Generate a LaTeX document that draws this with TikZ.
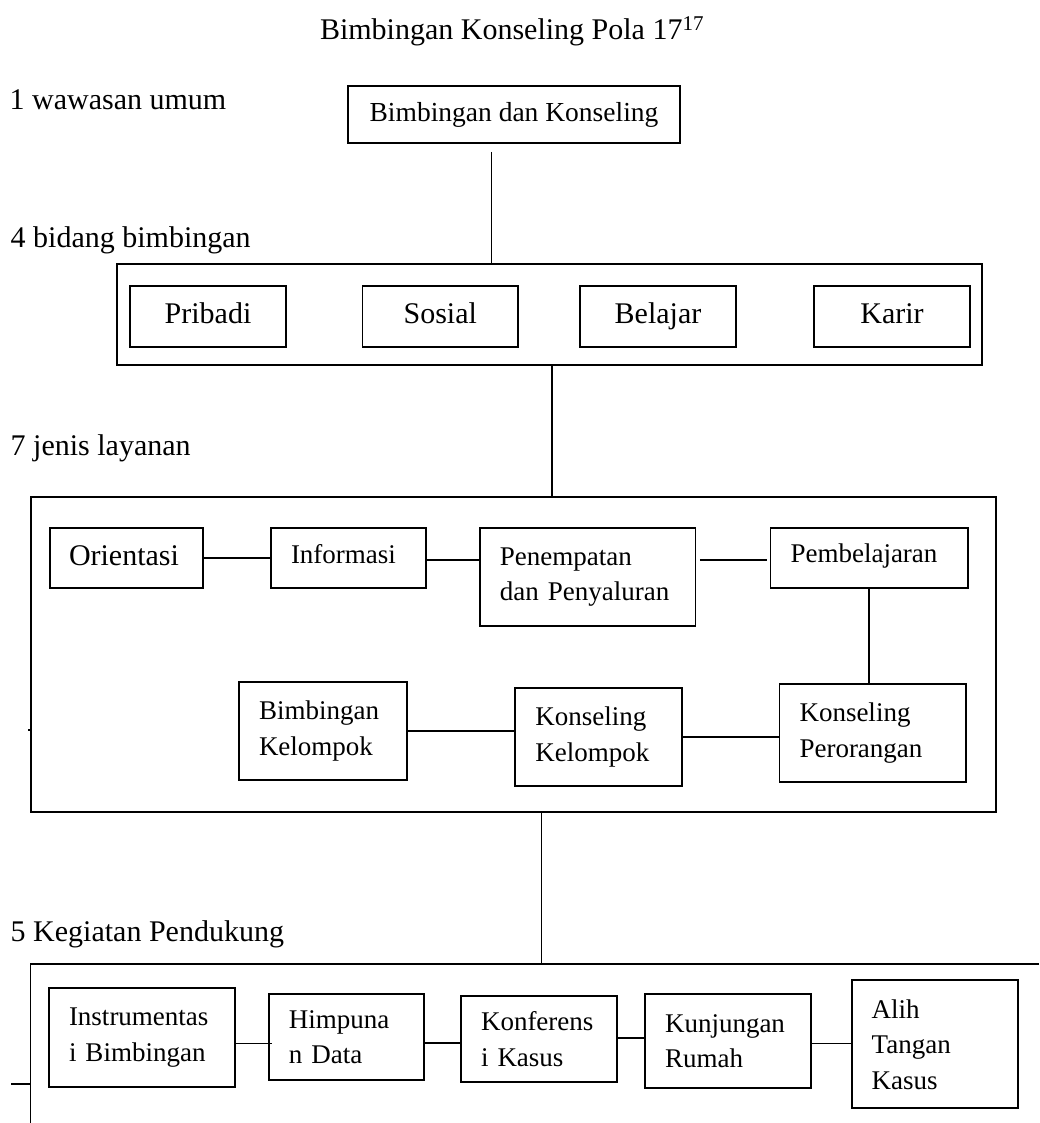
\documentclass[tikz,border=0pt]{standalone}
\usepackage{fontspec}
\setmainfont{Liberation Serif}
\usetikzlibrary{calc}
\begin{document}
\begin{tikzpicture}[x=1pt,y=-1pt,
  conn/.style={line width=1.6pt},
  outer/.style={draw, line width=1.8pt, inner sep=0pt},
  cbox/.style={draw, line width=1.8pt, inner sep=0pt, align=center, text height=19pt, text depth=6pt, font=\fontsize{30}{36}\selectfont},
  tbox/.style={draw, line width=1.8pt, inner xsep=20pt, inner ysep=0pt, align=left, font=\fontsize{27}{35.5}\selectfont},
  lbl/.style={anchor=base west, inner sep=0pt, font=\fontsize{30}{36}\selectfont}]
\useasboundingbox (0,0) rectangle (1039,1123);

% title and level labels
\node[anchor=base, inner sep=0pt, font=\fontsize{30}{36}\selectfont] (title) at (512,40) {Bimbingan Konseling Pola 17\textsuperscript{17}};
\node[lbl] (l1) at (9.5,110) {1 wawasan umum};
\node[lbl] (l4) at (10.5,247.3) {4 bidang bimbingan};
\node[lbl] (l7) at (10.5,455) {7 jenis layanan};
\node[lbl] (l5) at (10.5,941.5) {5 Kegiatan Pendukung};

% level 1
\node[draw, line width=1.8pt, inner sep=0pt, minimum width=332pt, minimum height=57pt, font=\fontsize{27.5}{33}\selectfont] (bk) at (514,114.5) {Bimbingan dan Konseling};

% level 2
\node[outer, minimum width=865pt, minimum height=101pt] (bidang) at (549.5,314.5) {};
\node[cbox, minimum width=156pt, minimum height=61pt] (pribadi) at (208,316.5) {Pribadi};
\node[cbox, minimum width=155.5pt, minimum height=61pt] (sosial) at (440.25,316.5) {Sosial};
\node[cbox, minimum width=156pt, minimum height=61pt] (belajar) at (658,316.5) {Belajar};
\node[cbox, minimum width=156pt, minimum height=61pt] (karir) at (892,316.5) {Karir};

\coordinate (c1) at (491.5,152);
\draw[conn] (c1) -- (c1 |- bidang.north);

% level 3
\node[outer, minimum width=965.3pt, minimum height=315pt] (layanan) at (513.35,654.2) {};
\coordinate (c2) at (552,497);
\draw[conn] (c2 |- bidang.south) -- (c2 |- layanan.north);

\node[tbox, text width=115pt, minimum height=60pt, font=\fontsize{30}{36}\selectfont, inner xsep=19pt, text height=20pt, text depth=6pt] (orientasi) at (126.5,558) {Orientasi};
\node[tbox, text width=114.7pt, minimum height=60pt, text height=18.4pt, text depth=8pt] (informasi) at (348.35,558) {Informasi};
\node[tbox, text width=175.6pt, minimum height=97.7pt] (penempatan) at (587.6,576.85) {Penempatan\\dan~Penyaluran};
\node[tbox, text width=157.1pt, minimum height=60.3pt, text height=18.4pt, text depth=10pt] (pembelajaran) at (869.05,558.15) {Pembelajaran};
\node[tbox, text width=128pt, minimum height=98pt] (bkel) at (323,731) {Bimbingan\\Kelompok};
\node[tbox, text width=126.9pt, minimum height=97.7pt] (kkel) at (598.75,736.85) {Konseling\\Kelompok};
\node[tbox, text width=146.5pt, minimum height=98pt] (kper) at (872.75,733) {Konseling\\Perorangan};

\draw[conn] (orientasi.east) -- (informasi.west);
\draw[conn] ([yshift=-2pt]informasi.east) -- ([yshift=-2pt]informasi.east -| penempatan.west);
\draw[conn] ([xshift=3.6pt,yshift=16.85pt]penempatan.east) -- ([xshift=-2.5pt,yshift=16.85pt]penempatan.east -| pembelajaran.west);
\draw[conn] (pembelajaran.south) -- (pembelajaran.south |- kper.north);
\draw[conn] (bkel.east) -- (bkel.east -| kkel.west);
\draw[conn] (kkel.east) -- (kkel.east -| kper.west);

\coordinate (tick) at (28,730);
\draw[line width=1.2pt] (tick) -- (tick -| layanan.west);

% level 4
\coordinate (kgtl) at (30.4,964);
\coordinate (kgtr) at (1039,964);
\coordinate (kgbl) at (30.4,1123);
\draw[line width=1.8pt] (kgtr) -- (kgtl) -- (kgbl);
\coordinate (stub) at (11,1084);
\draw[conn] (stub) -- (stub -| kgtl);

\coordinate (c3) at (541.5,964);
\draw[conn] (c3 |- layanan.south) -- (c3);

\node[tbox, text width=146pt, minimum height=99pt] (instr) at (142,1037.5) {Instrumentas\\i~Bimbingan};
\node[tbox, text width=115.25pt, minimum height=86pt] (himp) at (346.4,1037) {Himpuna\\n~Data};
\node[tbox, text width=116pt, minimum height=86pt] (konf) at (539,1039.3) {Konferens\\i~Kasus};
\node[tbox, text width=126pt, minimum height=94pt] (kunj) at (728,1041.3) {Kunjungan\\Rumah};
\node[tbox, text width=126pt, minimum height=128pt] (alih) at (934.7,1044.3) {Alih\\Tangan\\Kasus};

\draw[conn] ([yshift=-5.8pt]instr.east) -- ([yshift=-5.8pt,xshift=4pt]instr.east -| himp.west);
\draw[conn] ([yshift=-6pt]himp.east) -- ([yshift=-6pt]himp.east -| konf.west);
\draw[conn] ([yshift=1.6pt]konf.east) -- ([yshift=1.6pt]konf.east -| kunj.west);
\draw[conn] ([yshift=-2pt]kunj.east) -- ([yshift=-2pt]kunj.east -| alih.west);
\end{tikzpicture}
\end{document}
